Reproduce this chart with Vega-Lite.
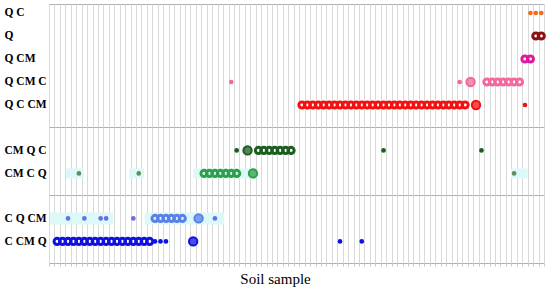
{
  "$schema": "https://vega.github.io/schema/vega-lite/v6.json",
  "padding": {"left": 3, "top": 3, "right": 5, "bottom": 0},
  "spacing": 0,
  "bounds": "flush",
  "background": "white",
  "config": {
    "view": {"stroke": "#b0b0b0", "strokeWidth": 1},
    "axisY": {"title": null, "labelAlign": "left", "labelPadding": 45, "ticks": false, "tickSize": 0, "domain": false, "grid": false, "labelFont": "Liberation Serif", "labelFontWeight": "bold", "labelFontSize": 11.5, "labelColor": "black", "labelBaseline": "middle", "minExtent": 45, "maxExtent": 45},
    "axisX": {"gridColor": "#d9d9d9", "gridWidth": 1, "domain": false, "labels": false}
  },
  "resolve": {"scale": {"y": "independent"}},
  "datasets": {
    "pts": [
      {"p": 1, "r": "Q C", "s": 89, "k": "dot"},
      {"p": 1, "r": "Q C", "s": 90, "k": "dot"},
      {"p": 1, "r": "Q C", "s": 91, "k": "dot"},
      {"p": 1, "r": "Q", "s": 90, "k": "ring"},
      {"p": 1, "r": "Q", "s": 91, "k": "ring"},
      {"p": 1, "r": "Q CM", "s": 88, "k": "ring"},
      {"p": 1, "r": "Q CM", "s": 89, "k": "ring"},
      {"p": 1, "r": "Q CM C", "s": 34, "k": "dot"},
      {"p": 1, "r": "Q CM C", "s": 76, "k": "dot"},
      {"p": 1, "r": "Q CM C", "s": 78, "k": "big"},
      {"p": 1, "r": "Q CM C", "s": 81, "k": "ring"},
      {"p": 1, "r": "Q CM C", "s": 82, "k": "ring"},
      {"p": 1, "r": "Q CM C", "s": 83, "k": "ring"},
      {"p": 1, "r": "Q CM C", "s": 84, "k": "ring"},
      {"p": 1, "r": "Q CM C", "s": 85, "k": "ring"},
      {"p": 1, "r": "Q CM C", "s": 86, "k": "ring"},
      {"p": 1, "r": "Q CM C", "s": 87, "k": "ring"},
      {"p": 1, "r": "Q C CM", "s": 47, "k": "ring"},
      {"p": 1, "r": "Q C CM", "s": 48, "k": "ring"},
      {"p": 1, "r": "Q C CM", "s": 49, "k": "ring"},
      {"p": 1, "r": "Q C CM", "s": 50, "k": "ring"},
      {"p": 1, "r": "Q C CM", "s": 51, "k": "ring"},
      {"p": 1, "r": "Q C CM", "s": 52, "k": "ring"},
      {"p": 1, "r": "Q C CM", "s": 53, "k": "ring"},
      {"p": 1, "r": "Q C CM", "s": 54, "k": "ring"},
      {"p": 1, "r": "Q C CM", "s": 55, "k": "ring"},
      {"p": 1, "r": "Q C CM", "s": 56, "k": "ring"},
      {"p": 1, "r": "Q C CM", "s": 57, "k": "ring"},
      {"p": 1, "r": "Q C CM", "s": 58, "k": "ring"},
      {"p": 1, "r": "Q C CM", "s": 59, "k": "ring"},
      {"p": 1, "r": "Q C CM", "s": 60, "k": "ring"},
      {"p": 1, "r": "Q C CM", "s": 61, "k": "ring"},
      {"p": 1, "r": "Q C CM", "s": 62, "k": "ring"},
      {"p": 1, "r": "Q C CM", "s": 63, "k": "ring"},
      {"p": 1, "r": "Q C CM", "s": 64, "k": "ring"},
      {"p": 1, "r": "Q C CM", "s": 65, "k": "ring"},
      {"p": 1, "r": "Q C CM", "s": 66, "k": "ring"},
      {"p": 1, "r": "Q C CM", "s": 67, "k": "ring"},
      {"p": 1, "r": "Q C CM", "s": 68, "k": "ring"},
      {"p": 1, "r": "Q C CM", "s": 69, "k": "ring"},
      {"p": 1, "r": "Q C CM", "s": 70, "k": "ring"},
      {"p": 1, "r": "Q C CM", "s": 71, "k": "ring"},
      {"p": 1, "r": "Q C CM", "s": 72, "k": "ring"},
      {"p": 1, "r": "Q C CM", "s": 73, "k": "ring"},
      {"p": 1, "r": "Q C CM", "s": 74, "k": "ring"},
      {"p": 1, "r": "Q C CM", "s": 75, "k": "ring"},
      {"p": 1, "r": "Q C CM", "s": 76, "k": "ring"},
      {"p": 1, "r": "Q C CM", "s": 77, "k": "ring"},
      {"p": 1, "r": "Q C CM", "s": 79, "k": "big"},
      {"p": 1, "r": "Q C CM", "s": 88, "k": "dot"},
      {"p": 2, "r": "CM Q C", "s": 35, "k": "dot"},
      {"p": 2, "r": "CM Q C", "s": 37, "k": "big"},
      {"p": 2, "r": "CM Q C", "s": 39, "k": "ring"},
      {"p": 2, "r": "CM Q C", "s": 40, "k": "ring"},
      {"p": 2, "r": "CM Q C", "s": 41, "k": "ring"},
      {"p": 2, "r": "CM Q C", "s": 42, "k": "ring"},
      {"p": 2, "r": "CM Q C", "s": 43, "k": "ring"},
      {"p": 2, "r": "CM Q C", "s": 44, "k": "ring"},
      {"p": 2, "r": "CM Q C", "s": 45, "k": "ring"},
      {"p": 2, "r": "CM Q C", "s": 62, "k": "dot"},
      {"p": 2, "r": "CM Q C", "s": 80, "k": "dot"},
      {"p": 2, "r": "CM C Q", "s": 6, "k": "dot"},
      {"p": 2, "r": "CM C Q", "s": 17, "k": "dot"},
      {"p": 2, "r": "CM C Q", "s": 29, "k": "ring"},
      {"p": 2, "r": "CM C Q", "s": 30, "k": "ring"},
      {"p": 2, "r": "CM C Q", "s": 31, "k": "ring"},
      {"p": 2, "r": "CM C Q", "s": 32, "k": "ring"},
      {"p": 2, "r": "CM C Q", "s": 33, "k": "ring"},
      {"p": 2, "r": "CM C Q", "s": 34, "k": "ring"},
      {"p": 2, "r": "CM C Q", "s": 35, "k": "ring"},
      {"p": 2, "r": "CM C Q", "s": 38, "k": "big"},
      {"p": 2, "r": "CM C Q", "s": 86, "k": "dot"},
      {"p": 3, "r": "C Q CM", "s": 4, "k": "dot"},
      {"p": 3, "r": "C Q CM", "s": 7, "k": "dot"},
      {"p": 3, "r": "C Q CM", "s": 10, "k": "dot"},
      {"p": 3, "r": "C Q CM", "s": 11, "k": "dot"},
      {"p": 3, "r": "C Q CM", "s": 16, "k": "dot"},
      {"p": 3, "r": "C Q CM", "s": 20, "k": "ring"},
      {"p": 3, "r": "C Q CM", "s": 21, "k": "ring"},
      {"p": 3, "r": "C Q CM", "s": 22, "k": "ring"},
      {"p": 3, "r": "C Q CM", "s": 23, "k": "ring"},
      {"p": 3, "r": "C Q CM", "s": 24, "k": "ring"},
      {"p": 3, "r": "C Q CM", "s": 25, "k": "ring"},
      {"p": 3, "r": "C Q CM", "s": 28, "k": "big"},
      {"p": 3, "r": "C Q CM", "s": 31, "k": "dot"},
      {"p": 3, "r": "C CM Q", "s": 2, "k": "ring"},
      {"p": 3, "r": "C CM Q", "s": 3, "k": "ring"},
      {"p": 3, "r": "C CM Q", "s": 4, "k": "ring"},
      {"p": 3, "r": "C CM Q", "s": 5, "k": "ring"},
      {"p": 3, "r": "C CM Q", "s": 6, "k": "ring"},
      {"p": 3, "r": "C CM Q", "s": 7, "k": "ring"},
      {"p": 3, "r": "C CM Q", "s": 8, "k": "ring"},
      {"p": 3, "r": "C CM Q", "s": 9, "k": "ring"},
      {"p": 3, "r": "C CM Q", "s": 10, "k": "ring"},
      {"p": 3, "r": "C CM Q", "s": 11, "k": "ring"},
      {"p": 3, "r": "C CM Q", "s": 12, "k": "ring"},
      {"p": 3, "r": "C CM Q", "s": 13, "k": "ring"},
      {"p": 3, "r": "C CM Q", "s": 14, "k": "ring"},
      {"p": 3, "r": "C CM Q", "s": 15, "k": "ring"},
      {"p": 3, "r": "C CM Q", "s": 16, "k": "ring"},
      {"p": 3, "r": "C CM Q", "s": 17, "k": "ring"},
      {"p": 3, "r": "C CM Q", "s": 18, "k": "ring"},
      {"p": 3, "r": "C CM Q", "s": 19, "k": "ring"},
      {"p": 3, "r": "C CM Q", "s": 20, "k": "dot"},
      {"p": 3, "r": "C CM Q", "s": 21, "k": "dot"},
      {"p": 3, "r": "C CM Q", "s": 22, "k": "dot"},
      {"p": 3, "r": "C CM Q", "s": 27, "k": "big"},
      {"p": 3, "r": "C CM Q", "s": 54, "k": "dot"},
      {"p": 3, "r": "C CM Q", "s": 58, "k": "dot"}
    ],
    "hl": [
      {"p": 2, "r": "CM C Q", "s": 3.6, "e": 6.9},
      {"p": 2, "r": "CM C Q", "s": 15.2, "e": 18.0},
      {"p": 2, "r": "CM C Q", "s": 27.0, "e": 38.5},
      {"p": 2, "r": "CM C Q", "s": 85.4, "e": 88.5},
      {"p": 3, "r": "C Q CM", "s": 0.7, "e": 12.3},
      {"p": 3, "r": "C Q CM", "s": 18.1, "e": 32.7}
    ]
  },
  "vconcat": [
    {
      "width": 495,
      "height": 123,
      "encoding": {
        "x": {"field": "s", "type": "quantitative", "scale": {"domain": [0.5, 91.5], "nice": false, "zero": false},
          "axis": {"title": null, "ticks": false, "labels": false, "domain": false, "grid": true, "minExtent": 0, "maxExtent": 0,
            "values": [0.5,1.5,2.5,3.5,4.5,5.5,6.5,7.5,8.5,9.5,10.5,11.5,12.5,13.5,14.5,15.5,16.5,17.5,18.5,19.5,20.5,21.5,22.5,23.5,24.5,25.5,26.5,27.5,28.5,29.5,30.5,31.5,32.5,33.5,34.5,35.5,36.5,37.5,38.5,39.5,40.5,41.5,42.5,43.5,44.5,45.5,46.5,47.5,48.5,49.5,50.5,51.5,52.5,53.5,54.5,55.5,56.5,57.5,58.5,59.5,60.5,61.5,62.5,63.5,64.5,65.5,66.5,67.5,68.5,69.5,70.5,71.5,72.5,73.5,74.5,75.5,76.5,77.5,78.5,79.5,80.5,81.5,82.5,83.5,84.5,85.5,86.5,87.5,88.5,89.5,90.5,91.5]}},
        "y": {"field": "r", "type": "ordinal", "scale": {"type": "point", "domain": ["Q C", "Q", "Q CM", "Q CM C", "Q C CM"], "padding": 0.674, "align": 0.29}},
        "color": {"field": "r", "type": "nominal", "legend": null,
          "scale": {"domain": ["Q C", "Q", "Q CM", "Q CM C", "Q C CM", "CM Q C", "CM C Q", "C Q CM", "C CM Q"],
            "range": ["#f26b1d", "#8b1010", "#e0189c", "#f06a9e", "#f51010", "#1b5e20", "#2fa04a", "#5a80ea", "#1010e0"]}}
      },
      "layer": [
        {"data": {"name": "pts"}, "transform": [{"filter": "datum.p == 1 && datum.k == 'dot'"}], "mark": {"type": "circle", "size": 22, "opacity": 1}},
        {"data": {"name": "pts"}, "transform": [{"filter": "datum.p == 1 && datum.k == 'ring'"}], "mark": {"type": "point", "filled": false, "size": 38, "strokeWidth": 3, "opacity": 1}},
        {"data": {"name": "pts"}, "transform": [{"filter": "datum.p == 1 && datum.k == 'big'"}], "mark": {"type": "point", "filled": true, "size": 70, "strokeWidth": 2, "opacity": 1, "fillOpacity": 0.75},
          "encoding": {"stroke": {"field": "r", "type": "nominal", "legend": null,
            "scale": {"domain": ["Q C", "Q", "Q CM", "Q CM C", "Q C CM", "CM Q C", "CM C Q", "C Q CM", "C CM Q"],
              "range": ["#f26b1d", "#8b1010", "#e0189c", "#f06a9e", "#f51010", "#1b5e20", "#2fa04a", "#5a80ea", "#1010e0"]}}}}
      ]
    },
    {
      "width": 495,
      "height": 68,
      "encoding": {
        "x": {"field": "s", "type": "quantitative", "scale": {"domain": [0.5, 91.5], "nice": false, "zero": false},
          "axis": {"title": null, "ticks": false, "labels": false, "domain": false, "grid": true, "minExtent": 0, "maxExtent": 0,
            "values": [0.5,1.5,2.5,3.5,4.5,5.5,6.5,7.5,8.5,9.5,10.5,11.5,12.5,13.5,14.5,15.5,16.5,17.5,18.5,19.5,20.5,21.5,22.5,23.5,24.5,25.5,26.5,27.5,28.5,29.5,30.5,31.5,32.5,33.5,34.5,35.5,36.5,37.5,38.5,39.5,40.5,41.5,42.5,43.5,44.5,45.5,46.5,47.5,48.5,49.5,50.5,51.5,52.5,53.5,54.5,55.5,56.5,57.5,58.5,59.5,60.5,61.5,62.5,63.5,64.5,65.5,66.5,67.5,68.5,69.5,70.5,71.5,72.5,73.5,74.5,75.5,76.5,77.5,78.5,79.5,80.5,81.5,82.5,83.5,84.5,85.5,86.5,87.5,88.5,89.5,90.5,91.5]}},
        "y": {"field": "r", "type": "ordinal", "scale": {"type": "point", "domain": ["CM Q C", "CM C Q"], "padding": 0.978, "align": 0.52}},
        "color": {"field": "r", "type": "nominal", "legend": null,
          "scale": {"domain": ["Q C", "Q", "Q CM", "Q CM C", "Q C CM", "CM Q C", "CM C Q", "C Q CM", "C CM Q"],
            "range": ["#f26b1d", "#8b1010", "#e0189c", "#f06a9e", "#f51010", "#1b5e20", "#2fa04a", "#5a80ea", "#1010e0"]}}
      },
      "layer": [
        {"data": {"name": "hl"}, "transform": [{"filter": "datum.p == 2"}], "mark": {"type": "rule", "strokeWidth": 10, "strokeCap": "butt", "color": "#ddf8f8"}, "encoding": {"x2": {"field": "e"}, "color": {"value": "#ddf8f8"}}},
        {"data": {"name": "pts"}, "transform": [{"filter": "datum.p == 2 && datum.k == 'dot'"}], "mark": {"type": "circle", "size": 22, "opacity": 1},
          "encoding": {"color": {"condition": {"test": "datum.r == 'CM C Q'", "value": "#5f8f5f"}, "field": "r", "type": "nominal", "legend": null}}},
        {"data": {"name": "pts"}, "transform": [{"filter": "datum.p == 2 && datum.k == 'ring'"}], "mark": {"type": "point", "filled": false, "size": 38, "strokeWidth": 3, "opacity": 1}},
        {"data": {"name": "pts"}, "transform": [{"filter": "datum.p == 2 && datum.k == 'big'"}], "mark": {"type": "point", "filled": true, "size": 70, "strokeWidth": 2, "opacity": 1, "fillOpacity": 0.75},
          "encoding": {"stroke": {"field": "r", "type": "nominal", "legend": null,
            "scale": {"domain": ["Q C", "Q", "Q CM", "Q CM C", "Q C CM", "CM Q C", "CM C Q", "C Q CM", "C CM Q"],
              "range": ["#f26b1d", "#8b1010", "#e0189c", "#f06a9e", "#f51010", "#1b5e20", "#2fa04a", "#5a80ea", "#1010e0"]}}}}
      ]
    },
    {
      "width": 495,
      "height": 68,
      "encoding": {
        "x": {"field": "s", "type": "quantitative", "scale": {"domain": [0.5, 91.5], "nice": false, "zero": false},
          "axis": {"title": "Soil sample", "ticks": true, "tickSize": 3, "tickColor": "#c8c8c8", "labels": false, "domain": false, "grid": true,
            "titleFont": "Liberation Serif", "titleFontSize": 15, "titleFontWeight": "normal", "titleColor": "black", "titleX": 226, "titleY": 20, "titleBaseline": "alphabetic", "titleAlign": "center",
            "values": [0.5,1.5,2.5,3.5,4.5,5.5,6.5,7.5,8.5,9.5,10.5,11.5,12.5,13.5,14.5,15.5,16.5,17.5,18.5,19.5,20.5,21.5,22.5,23.5,24.5,25.5,26.5,27.5,28.5,29.5,30.5,31.5,32.5,33.5,34.5,35.5,36.5,37.5,38.5,39.5,40.5,41.5,42.5,43.5,44.5,45.5,46.5,47.5,48.5,49.5,50.5,51.5,52.5,53.5,54.5,55.5,56.5,57.5,58.5,59.5,60.5,61.5,62.5,63.5,64.5,65.5,66.5,67.5,68.5,69.5,70.5,71.5,72.5,73.5,74.5,75.5,76.5,77.5,78.5,79.5,80.5,81.5,82.5,83.5,84.5,85.5,86.5,87.5,88.5,89.5,90.5,91.5]}},
        "y": {"field": "r", "type": "ordinal", "scale": {"type": "point", "domain": ["C Q CM", "C CM Q"], "padding": 0.978, "align": 0.52}},
        "color": {"field": "r", "type": "nominal", "legend": null,
          "scale": {"domain": ["Q C", "Q", "Q CM", "Q CM C", "Q C CM", "CM Q C", "CM C Q", "C Q CM", "C CM Q"],
            "range": ["#f26b1d", "#8b1010", "#e0189c", "#f06a9e", "#f51010", "#1b5e20", "#2fa04a", "#5a80ea", "#1010e0"]}}
      },
      "layer": [
        {"data": {"name": "hl"}, "transform": [{"filter": "datum.p == 3"}], "mark": {"type": "rule", "strokeWidth": 12, "strokeCap": "butt", "color": "#ddf8f8"}, "encoding": {"x2": {"field": "e"}, "color": {"value": "#ddf8f8"}}},
        {"data": {"name": "pts"}, "transform": [{"filter": "datum.p == 3 && datum.k == 'dot'"}], "mark": {"type": "circle", "size": 22, "opacity": 1},
          "encoding": {"color": {"condition": {"test": "datum.r == 'C Q CM'", "value": "#6a6ee6"}, "field": "r", "type": "nominal", "legend": null}}},
        {"data": {"name": "pts"}, "transform": [{"filter": "datum.p == 3 && datum.k == 'ring'"}], "mark": {"type": "point", "filled": false, "size": 38, "strokeWidth": 3, "opacity": 1}},
        {"data": {"name": "pts"}, "transform": [{"filter": "datum.p == 3 && datum.k == 'big'"}], "mark": {"type": "point", "filled": true, "size": 70, "strokeWidth": 2, "opacity": 1, "fillOpacity": 0.75},
          "encoding": {"stroke": {"field": "r", "type": "nominal", "legend": null,
            "scale": {"domain": ["Q C", "Q", "Q CM", "Q CM C", "Q C CM", "CM Q C", "CM C Q", "C Q CM", "C CM Q"],
              "range": ["#f26b1d", "#8b1010", "#e0189c", "#f06a9e", "#f51010", "#1b5e20", "#2fa04a", "#5a80ea", "#1010e0"]}}}}
      ]
    }
  ]
}
